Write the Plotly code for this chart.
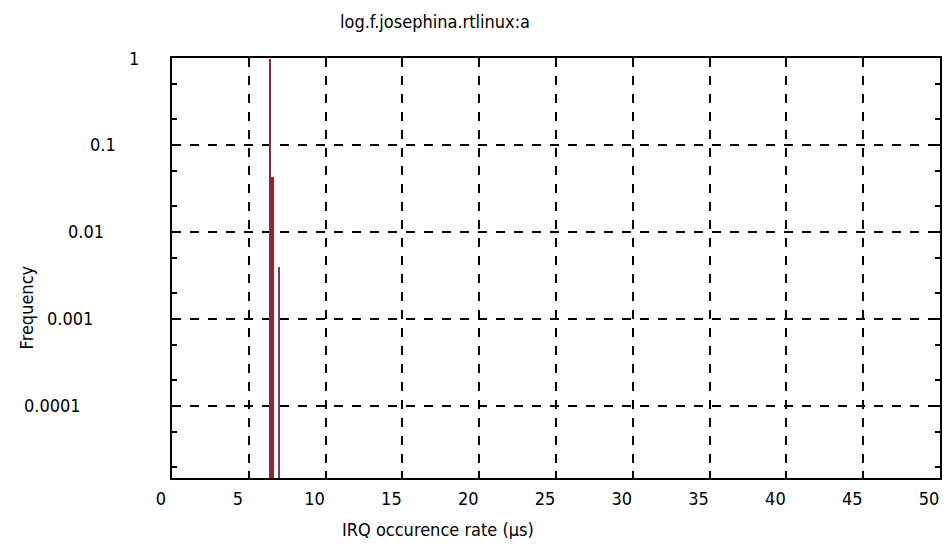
import numpy as np
import plotly.graph_objects as go

# ---- data ----
title_text = "log.f.josephina.rtlinux:a"
x_title = "IRQ occurence rate (\u03bcs)"
y_title = "Frequency"

rate_main = [6.42]          # thin tall impulse
freq_main = [0.98]
rate_mid = [6.5]            # thick bar
freq_mid = [0.043]
rate_tail = [7.0]           # thin small impulse
freq_tail = [0.004]

x_ticks = [0, 5, 10, 15, 20, 25, 30, 35, 40, 45, 50]
y_ticks = [1, 0.1, 0.01, 0.001, 0.0001]
y_tick_labels = ["1", "0.1", "0.01", "0.001", "0.0001"]

FONT = "DejaVu Sans Condensed, Liberation Sans Narrow, Liberation Sans, sans-serif"

fig = go.Figure()
fig.add_trace(go.Bar(x=rate_mid, y=freq_mid, width=0.32,
                     marker=dict(color="#a3201f", line=dict(width=0)), showlegend=False))
fig.add_trace(go.Bar(x=rate_main, y=freq_main, width=0.09,
                     marker=dict(color="#8a2a45", line=dict(width=0)), showlegend=False))
fig.add_trace(go.Bar(x=rate_tail, y=freq_tail, width=0.09,
                     marker=dict(color="#7d3a60", line=dict(width=0)), showlegend=False))

# page body has an 8px default margin, so the figure is placed at (8, 8)
OFF = 8
W, H = 936, 531
plot_l, plot_r, plot_t, plot_b = 172, 942, 58, 478   # target screen pixels
ml = plot_l - OFF
mr = (OFF + W) - plot_r
mt = plot_t - OFF
mb = (OFF + H) - plot_b

fig.update_layout(
    width=W, height=H,
    margin=dict(l=ml, r=mr, t=mt, b=mb),
    paper_bgcolor="white", plot_bgcolor="white",
    barmode="overlay", bargap=0,
    font=dict(family=FONT, size=18, color="black"),
)
fig.update_xaxes(
    range=[0, 50], tickvals=x_ticks, ticktext=[str(v) for v in x_ticks],
    ticks="inside", ticklen=7, tickwidth=1.5, tickcolor="black",
    showline=True, linecolor="black", linewidth=1.5, mirror="ticks",
    showgrid=True, gridcolor="black", griddash="dash", gridwidth=1.5,
    zeroline=False, ticklabelshift=-11, ticklabelstandoff=4,
    tickfont=dict(family=FONT, size=18),
)
fig.update_yaxes(
    type="log", range=[np.log10(1.48e-5), 0],
    tickvals=y_ticks, showticklabels=False,
    ticks="inside", ticklen=7, tickwidth=1.5, tickcolor="black",
    minor=dict(dtick="D2", ticks="inside", ticklen=5, tickcolor="black", showgrid=False),
    showline=True, linecolor="black", linewidth=1.5, mirror="ticks",
    showgrid=True, gridcolor="black", griddash="dash", gridwidth=1.5,
    zeroline=False,
)

# staggered y tick labels (as in the original rendering)
for v, lab in zip(y_ticks, y_tick_labels):
    right_px = 152 - 11.5 * len(lab)
    fig.add_annotation(x=0, xref="paper", y=np.log10(v), yref="y",
                       text=lab, showarrow=False, xanchor="right", yanchor="middle",
                       xshift=right_px - plot_l, font=dict(family=FONT, size=18))

pw = plot_r - plot_l
ph = plot_b - plot_t
def px_to_paper_x(px):
    return (px - plot_l) / pw
def px_to_paper_y(py):
    return (plot_b - py) / ph

fig.add_annotation(x=px_to_paper_x(436), y=px_to_paper_y(21), xref="paper", yref="paper",
                   text=title_text, showarrow=False, xanchor="center", yanchor="middle",
                   font=dict(family=FONT, size=18))
fig.add_annotation(x=px_to_paper_x(439), y=px_to_paper_y(529), xref="paper", yref="paper",
                   text=x_title, showarrow=False, xanchor="center", yanchor="middle",
                   font=dict(family=FONT, size=18))
fig.add_annotation(x=px_to_paper_x(26), y=px_to_paper_y(307), xref="paper", yref="paper",
                   text=y_title, showarrow=False, textangle=-90, xanchor="center", yanchor="middle",
                   font=dict(family=FONT, size=18))

fig.write_html("out.html")
